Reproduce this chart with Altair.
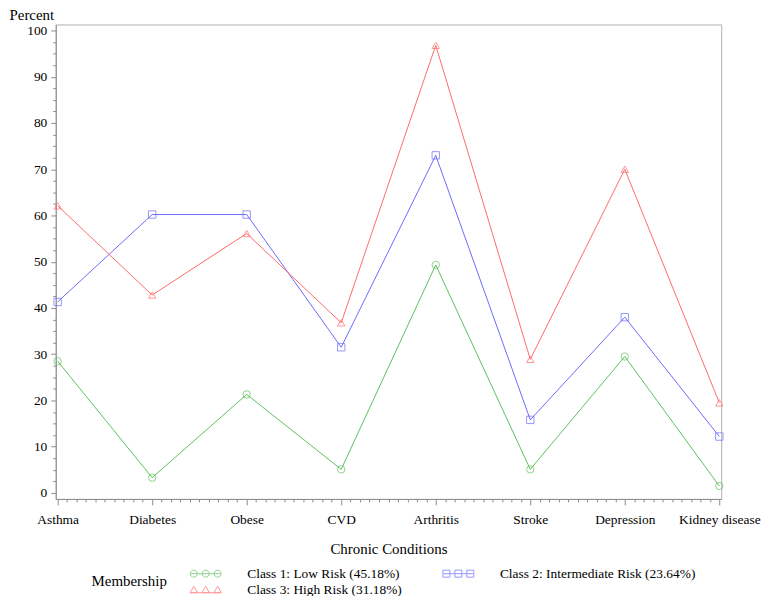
import altair as alt
import pandas as pd

conditions = ["Asthma", "Diabetes", "Obese", "CVD", "Arthritis", "Stroke", "Depression", "Kidney disease"]
series_names = [
    "Class 1: Low Risk (45.18%)",
    "Class 2: Intermediate Risk (23.64%)",
    "Class 3: High Risk (31.18%)",
]
class1 = [28.5, 3.3, 21.3, 5.1, 49.3, 5.1, 29.5, 1.5]
class2 = [41.3, 60.2, 60.2, 31.5, 73.0, 15.8, 38.0, 12.2]
class3 = [62.1, 42.8, 56.1, 36.8, 96.8, 28.9, 70.0, 19.5]
colors = ["#5fbf5f", "#6b6bff", "#ff6b6b"]
marker_shapes = ["circle", "square", "triangle-up"]

y_major = list(range(0, 101, 10))
y_minor = [v / 2 for v in range(0, 201, 5) if v % 20 != 0]
x_major = list(range(len(conditions)))
x_minor = [round(i + j / 10, 2) for i in range(len(conditions) - 1) for j in range(1, 10)]

rows = []
for name, vals in zip(series_names, [class1, class2, class3]):
    for i, v in enumerate(vals):
        rows.append({"idx": i, "condition": conditions[i], "series": name, "value": v})
df = pd.DataFrame(rows)

# legend symbols: a short line with three markers
def circle_sym():
    p = "M-3,0L3,0"
    for c in (-2.4, 0, 2.4):
        p += f" M{c+0.7},0 A0.7,0.7 0 1,1 {c-0.7},0 A0.7,0.7 0 1,1 {c+0.7},0"
    return p

def square_sym():
    p = "M-3,0L3,0"
    for c in (-2.4, 0, 2.4):
        p += f" M{c-0.7},-0.7 L{c+0.7},-0.7 L{c+0.7},0.7 L{c-0.7},0.7 Z"
    return p

def tri_sym():
    p = "M-3,0.5L3,0.5"
    for c in (-2.4, 0, 2.4):
        p += f" M{c},-0.8 L{c+0.75},0.5 L{c-0.75},0.5 Z"
    return p

legend_shapes = [circle_sym(), square_sym(), tri_sym()]

label_expr = "[" + ",".join("'" + c + "'" for c in conditions) + "][datum.value]"

xscale = alt.Scale(domain=[-0.02, 7.02], nice=False, zero=False)
yscale = alt.Scale(domain=[-1.3, 101.3], nice=False, zero=False)
cscale = alt.Scale(domain=series_names, range=colors)

x_main = alt.X("idx:Q", scale=xscale, axis=alt.Axis(
    values=x_major, labelExpr=label_expr, title="Chronic Conditions", grid=False,
    tickSize=6, labelPadding=8, titlePadding=15, labelFlush=False, labelOverlap=False,
    orient="bottom"))
y_main = alt.Y("value:Q", scale=yscale, axis=alt.Axis(
    values=y_major, title="Percent", grid=False, tickSize=5, labelPadding=4,
    titleAngle=0, titleAlign="left", titleBaseline="alphabetic", titleX=-47, titleY=-5,
    orient="left"))

lines = alt.Chart(df).mark_line(strokeWidth=1).encode(
    x=x_main,
    y=y_main,
    color=alt.Color("series:N", scale=cscale, legend=None),
    detail="series:N",
)

points = alt.Chart(df).mark_point(filled=False, size=55, strokeWidth=1).encode(
    x=alt.X("idx:Q", scale=xscale, axis=alt.Axis(
        values=x_minor, labels=False, domain=False, title=None, grid=False,
        tickSize=3, orient="bottom")),
    y=alt.Y("value:Q", scale=yscale, axis=alt.Axis(
        values=y_minor, labels=False, domain=False, title=None, grid=False,
        tickSize=3, orient="left")),
    color=alt.Color("series:N", scale=cscale, legend=None),
    shape=alt.Shape("series:N", scale=alt.Scale(domain=series_names, range=marker_shapes), legend=None),
)

legend_layer = alt.Chart(df).transform_filter("datum.value > 1000").mark_point(
    filled=False, strokeWidth=1).encode(
    x=alt.X("idx:Q", scale=xscale, axis=None),
    y=alt.Y("value:Q", scale=yscale, axis=None),
    color=alt.Color("series:N", scale=alt.Scale(domain=series_names, range=colors),
                    legend=alt.Legend(title="Membership")),
    shape=alt.Shape("series:N", scale=alt.Scale(domain=series_names, range=legend_shapes),
                    legend=alt.Legend(title="Membership")),
)

chart = alt.layer(lines, points, legend_layer).resolve_scale(
    color="independent", shape="independent"
).resolve_axis(
    x="independent", y="independent"
).properties(
    width=669, height=477,
    autosize=alt.AutoSizeParams(type="none"),
    padding={"left": 48, "top": 15, "right": 41, "bottom": 96},
).configure(
    font="Liberation Serif",
).configure_view(
    stroke="#b0b0b0", strokeWidth=1,
).configure_axis(
    labelFont="Liberation Serif", titleFont="Liberation Serif",
    labelFontSize=13.5, titleFontSize=15, titleFontWeight="normal",
    labelColor="black", titleColor="black",
    domainColor="#8c8c8c", tickColor="#8c8c8c", domainWidth=1, tickWidth=1,
).configure_legend(
    orient="none", legendX=36, legendY=545, direction="horizontal",
    titleOrient="left", titleFontSize=15, titleFontWeight="normal", titleColor="black",
    titleFont="Liberation Serif", labelFont="Liberation Serif",
    labelFontSize=13.5, labelColor="black", labelLimit=400,
    columns=2, columnPadding=38, rowPadding=2, labelOffset=35, titlePadding=32,
    symbolSize=100, symbolStrokeWidth=1, padding=0,
)

chart.save("out.html", embed_options={"renderer": "svg", "actions": False})
